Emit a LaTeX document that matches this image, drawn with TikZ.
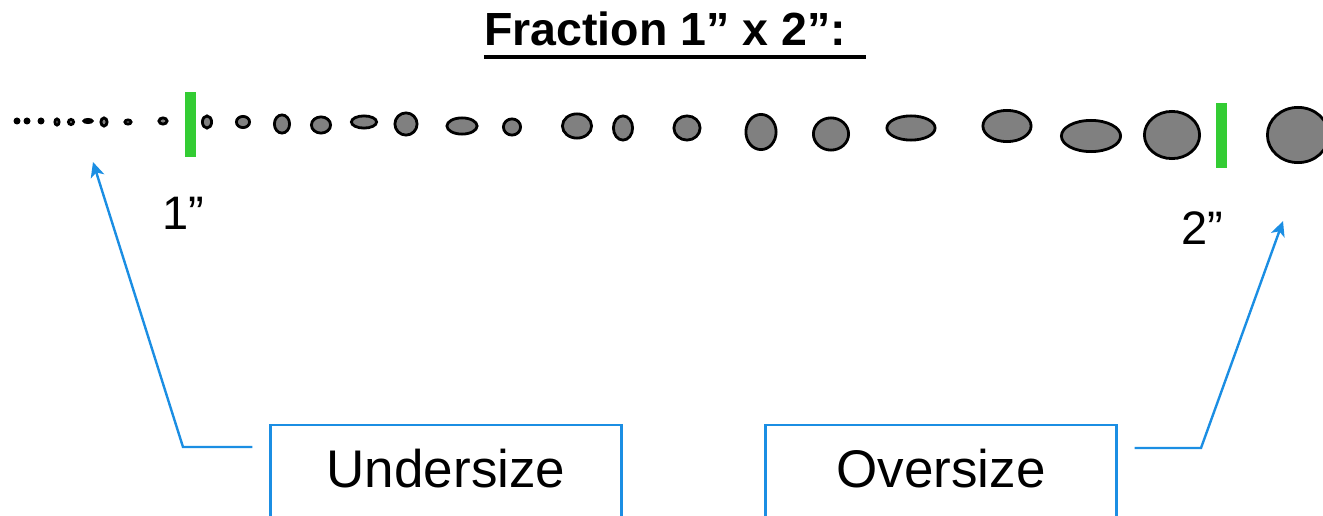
\documentclass[tikz,border=0pt]{standalone}
\usepackage{fontspec}
\setmainfont{Liberation Sans}
\usetikzlibrary{arrows.meta,positioning,calc,shapes.geometric}
\definecolor{ink}{HTML}{000000}
\definecolor{pebble}{HTML}{808080}
\definecolor{limit}{HTML}{33CC33}
\definecolor{sky}{HTML}{1B8EE3}
\tikzset{
  stone/.style={ellipse, draw=ink, fill=pebble, line width=2.8pt, inner sep=0pt},
  speck/.style={circle, fill=ink, inner sep=0pt, minimum size=7pt},
  sieve/.style={rectangle, fill=limit, inner sep=0pt, minimum width=11pt, minimum height=65pt},
  sizebox/.style={draw=sky, line width=2.4pt, inner sep=0pt, font=\fontsize{53}{60}\selectfont, text=ink, minimum width=351pt, anchor=north, text height=62pt, text depth=48pt},
  arr/.style={-{Stealth[length=15pt,width=14pt,inset=4pt]}, line width=2.4pt, draw=sky},
  lab/.style={font=\fontsize{47}{54}\selectfont, text=ink, inner sep=0pt, anchor=base},
}
\begin{document}
\begin{tikzpicture}[x=1pt, y=-1pt]
    \useasboundingbox (0,0) rectangle (1323,516);
    \clip (0,0) rectangle (1323,516);
    \node[font=\fontsize{46.5}{54}\selectfont\bfseries, text=ink, inner sep=0pt, anchor=base] (ttl) at (665,46) {Fraction 1” x 2”:};
    \draw[line width=4.5pt, ink] ([yshift=-11pt]ttl.base west) -- ([xshift=20pt,yshift=-11pt]ttl.base east);
    \foreach \x [count=\i] in {17,27,41}
      \node[speck] (d\i) at (\x,121) {};
    \foreach \x/\y/\w/\h [count=\i] in {
        57/122/7/9, 71/122/8/8, 88/121/11/6, 104/122/9/11, 128/122/9/7, 163/121/11/9,
        207/122/12/15, 243/122/16/14, 282/124/18/21, 321/125/22/19, 364/122/28/15, 406/124/25/25,
        462/126/33/19, 512/127/20/19, 577/126/32/27, 623/128/22/27, 687/128/29/27, 761/132/33/38,
        831/134/38/35, 911/128/51/27, 1007/126/51/34, 1091/136/62/34, 1172/135/58/50, 1298/135/64/58} {
      \node[stone, minimum width={(\w-2.8)*1pt}, minimum height={(\h-2.8)*1pt}] (p\i) at (\x,\y) {};
    }
    \node[sieve] (low) at (190.5,124.5) {};
    \node[sieve] (high) at (1221.5,135.5) {};
    \node[lab] (one) at (183,229) {1”};
    \node[lab] (two) at (1202,244) {2”};
    \node[sizebox] (und) at (446,424) {Undersize};
    \node[sizebox] (ovr) at (941,424) {Oversize};
    \coordinate (ustart) at ([xshift=-17pt,yshift=-23pt]und.north west);
    \coordinate (ubend) at (183,447);
    \coordinate (utip) at (93,162);
    \coordinate (ostart) at ([xshift=17pt,yshift=-24pt]ovr.north east);
    \coordinate (obend) at (1201,448);
    \coordinate (otip) at (1283,221);
    \draw[arr] (ustart) -- (ubend) -- (utip);
    \draw[arr] (ostart) -- (obend) -- (otip);
\end{tikzpicture}
\end{document}
